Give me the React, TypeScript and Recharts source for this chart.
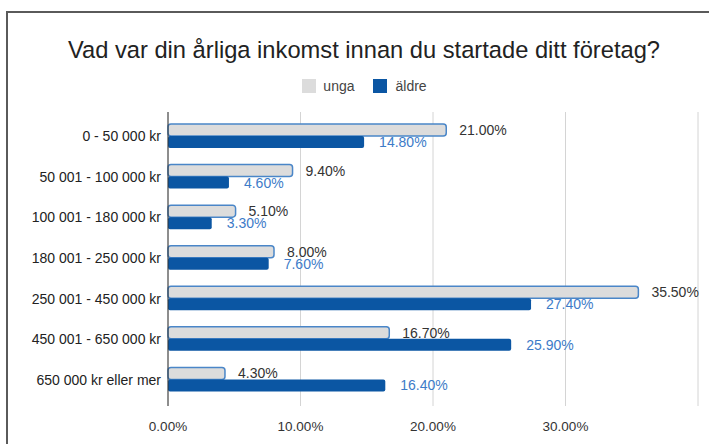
import React from 'react';
import { BarChart, Bar, XAxis, YAxis, CartesianGrid, Legend, LabelList } from 'recharts';

const categories = [
  '0 - 50 000 kr',
  '50 001 - 100 000 kr',
  '100 001 - 180 000 kr',
  '180 001 - 250 000 kr',
  '250 001 - 450 000 kr',
  '450 001 - 650 000 kr',
  '650 000 kr eller mer',
];
const unga = [21.0, 9.4, 5.1, 8.0, 35.5, 16.7, 4.3];
const aldre = [14.8, 4.6, 3.3, 7.6, 27.4, 25.9, 16.4];
const xTicks = [0, 10, 20, 30, 40];

const data = categories.map((c, i) => ({ name: c, unga: unga[i], aldre: aldre[i] }));

const FONT = '"Liberation Sans", Arial, sans-serif';
const UNGA_FILL = '#dcdcdc';
const UNGA_STROKE = '#4a86c8';
const ALDRE_FILL = '#0b56a3';

const fmt = (v: number) => `${v.toFixed(2)}%`;

const LegendContent = () => (
  <div style={{ display: 'flex', justifyContent: 'center', alignItems: 'center', fontFamily: FONT, fontSize: 14, color: '#444', paddingLeft: 20, height: 16 }}>
    <span style={{ display: 'inline-block', width: 14, height: 14, background: UNGA_FILL, marginRight: 7 }} />
    <span style={{ marginRight: 18 }}>unga</span>
    <span style={{ display: 'inline-block', width: 14, height: 14, background: ALDRE_FILL, marginRight: 9 }} />
    <span>äldre</span>
  </div>
);

export default function App() {
  return (
    <div style={{ position: 'absolute', left: 0, top: 0, width: 709, height: 444, background: '#fff', fontFamily: FONT }}>
      <div style={{ position: 'absolute', left: 6, top: 11, width: 703, height: 2, background: '#5a5a5a' }} />
      <div style={{ position: 'absolute', left: 6, top: 11, width: 2, height: 433, background: '#5a5a5a' }} />
      <div style={{ position: 'absolute', left: 0, top: 35, width: 728, textAlign: 'center', fontSize: 23.7, lineHeight: '30px', color: '#222', fontFamily: FONT }}>
        Vad var din årliga inkomst innan du startade ditt företag?
      </div>
      <BarChart
        width={709}
        height={444}
        data={data}
        layout="vertical"
        margin={{ top: 112, right: 11, bottom: 8, left: 0 }}
        barGap={0}
        style={{ position: 'absolute', left: 0, top: 0 }}
      >
        <CartesianGrid horizontal={false} vertical={true} stroke="#d4d4d4" />
        <XAxis
          type="number"
          domain={[0, 40]}
          ticks={xTicks}
          axisLine={false}
          tickLine={false}
          height={30}
          tickMargin={9}
          tickFormatter={(v: number) => (v === 40 ? '' : fmt(v))}
          tick={{ fill: '#333', fontSize: 13.5, fontFamily: FONT }}
        />
        <YAxis
          type="category"
          dataKey="name"
          width={168}
          padding={{ top: 4, bottom: 6 }}
          axisLine={{ stroke: '#333', strokeWidth: 1 }}
          tickLine={false}
          tickMargin={1}
          tick={{ fill: '#222', fontSize: 14, fontFamily: FONT }}
        />
        <Legend
          verticalAlign="middle"
          align="center"
          layout="horizontal"
          content={<LegendContent />}
          wrapperStyle={{ position: 'absolute', top: 78, left: 0, width: 709 }}
        />
        <Bar dataKey="unga" name="unga" fill={UNGA_FILL} stroke={UNGA_STROKE} strokeWidth={1.5} barSize={12} radius={3} isAnimationActive={false}>
          <LabelList dataKey="unga" position="right" offset={13} formatter={(v: number) => fmt(v)} style={{ fill: '#333', fontSize: 14, fontFamily: FONT }} />
        </Bar>
        <Bar dataKey="aldre" name="äldre" fill={ALDRE_FILL} barSize={12} radius={2} isAnimationActive={false}>
          <LabelList dataKey="aldre" position="right" offset={15} formatter={(v: number) => fmt(v)} style={{ fill: '#3d7bc8', fontSize: 14, fontFamily: FONT }} />
        </Bar>
      </BarChart>
    </div>
  );
}
